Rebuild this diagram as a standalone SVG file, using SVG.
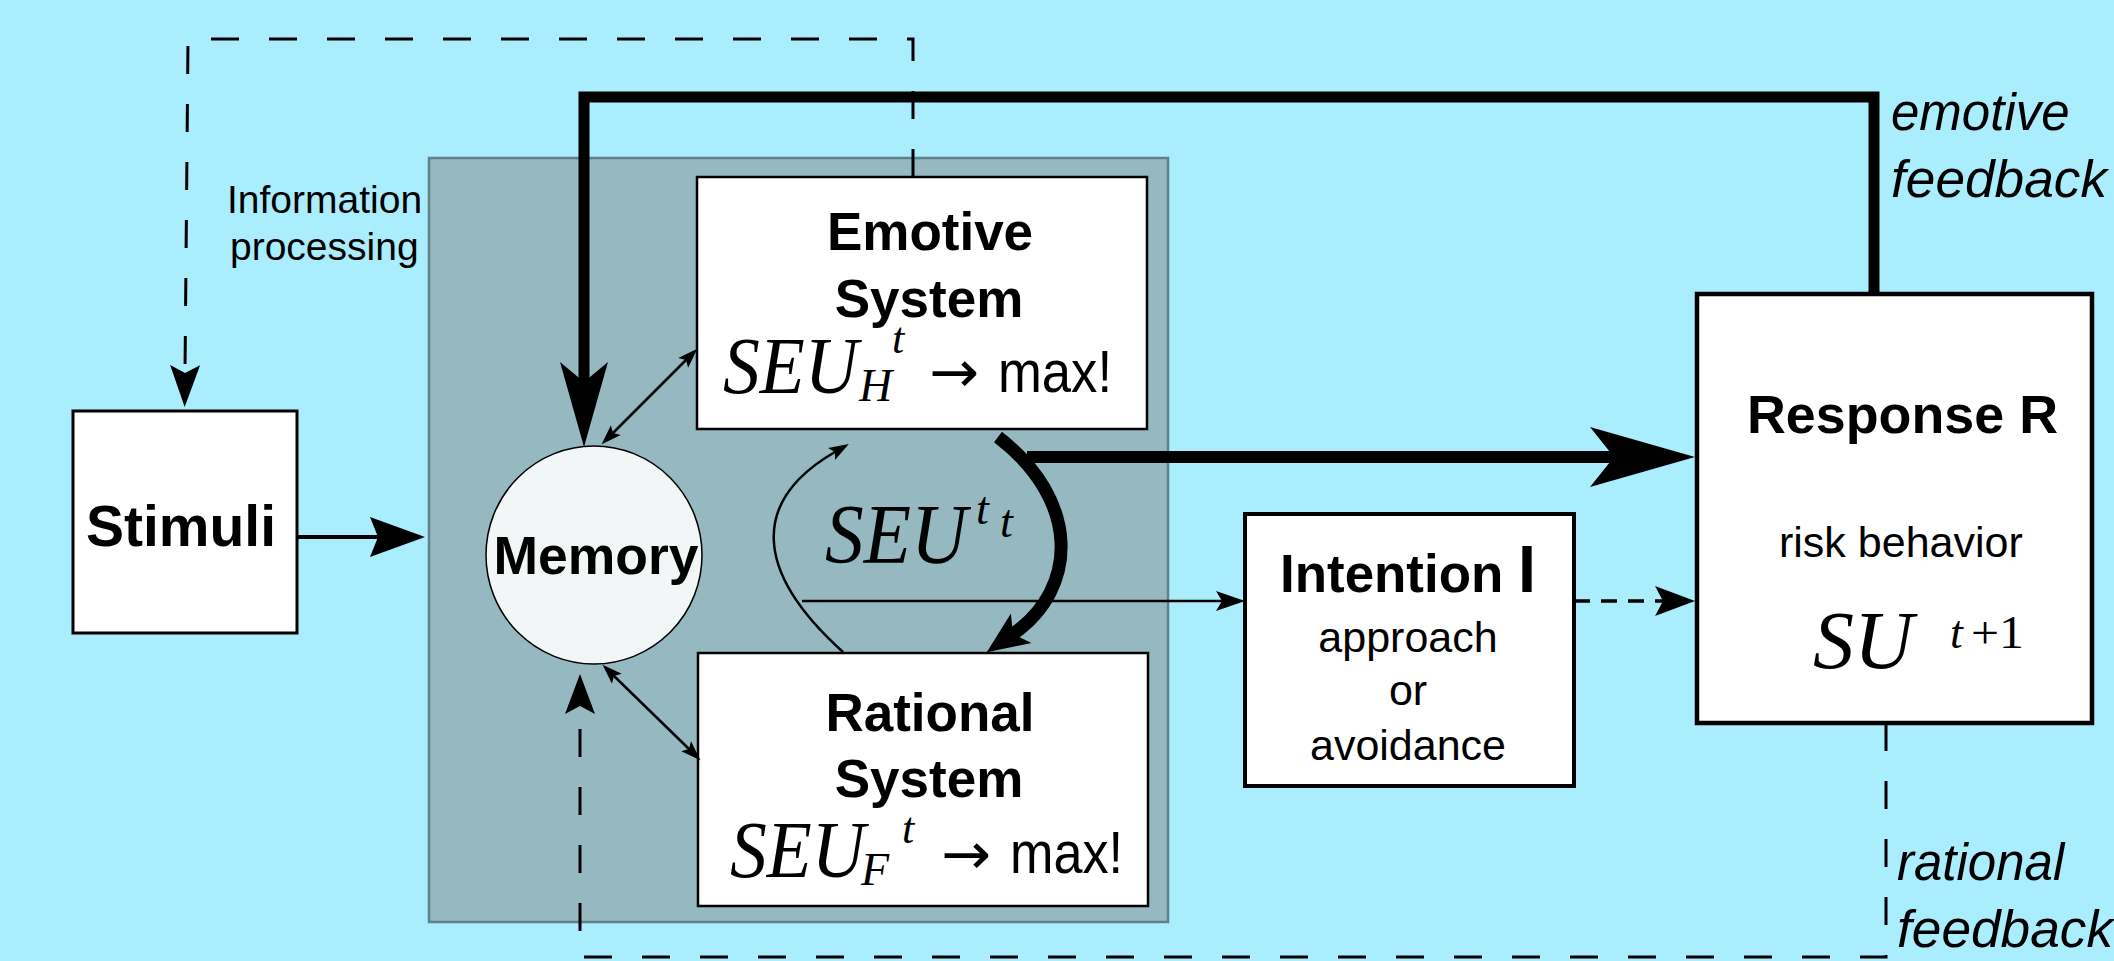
<svg xmlns="http://www.w3.org/2000/svg" width="2114" height="961" viewBox="0 0 2114 961">
<style>
.sans{font-family:"Liberation Sans",Arial,sans-serif;fill:#000}
.b{font-weight:bold}
.it{font-style:italic}
.ser{font-family:"Liberation Serif","Times New Roman",serif;font-style:italic;fill:#000}
.arr{font-family:"DejaVu Sans",sans-serif;fill:#000}
.box{fill:#fff;stroke:#000}
.dash{fill:none;stroke:#000;stroke-width:3;stroke-dasharray:28 30}
</style>
<defs>
<marker id="hBig" markerUnits="userSpaceOnUse" viewBox="0 -31 106 62" refX="24" refY="0" markerWidth="106" markerHeight="62" orient="auto"><path d="M0,-30 L105,0 L0,30 L24,0 Z" fill="#000"/></marker>
<marker id="vBig" markerUnits="userSpaceOnUse" viewBox="0 -25 86 50" refX="20" refY="0" markerWidth="86" markerHeight="50" orient="auto"><path d="M0,-24 L85,0 L0,24 L20,0 Z" fill="#000"/></marker>
<marker id="cHead" markerUnits="userSpaceOnUse" viewBox="0 -19 43 38" refX="10" refY="0" markerWidth="43" markerHeight="38" orient="auto"><path d="M0,-18 L42,0 L0,18 L10,0 Z" fill="#000"/></marker>
<marker id="stim" markerUnits="userSpaceOnUse" viewBox="0 -21 56 42" refX="8" refY="0" markerWidth="56" markerHeight="42" orient="auto"><path d="M0,-20 L55,0 L0,20 L8,0 Z" fill="#000"/></marker>
<marker id="sm" markerUnits="userSpaceOnUse" viewBox="0 -8 21 16" refX="4" refY="0" markerWidth="21" markerHeight="16" orient="auto-start-reverse"><path d="M0,-7 L20,0 L0,7 L4,0 Z" fill="#000"/></marker>
<marker id="thin" markerUnits="userSpaceOnUse" viewBox="0 -11 30 22" refX="6" refY="0" markerWidth="30" markerHeight="22" orient="auto"><path d="M0,-10 L29,0 L0,10 L6,0 Z" fill="#000"/></marker>
<marker id="dHead" markerUnits="userSpaceOnUse" viewBox="0 -16 43 32" refX="8" refY="0" markerWidth="43" markerHeight="32" orient="auto"><path d="M0,-15 L42,0 L0,15 L8,0 Z" fill="#000"/></marker>
<marker id="dHead2" markerUnits="userSpaceOnUse" viewBox="0 -16 41 32" refX="8" refY="0" markerWidth="41" markerHeight="32" orient="auto"><path d="M0,-15 L40,0 L0,15 L8,0 Z" fill="#000"/></marker>
</defs>
<rect x="0" y="0" width="2114" height="961" fill="#aaedfd"/>
<g id="processing">
<rect x="429" y="158" width="739" height="764" fill="#96b8c1" stroke="#5f8189" stroke-width="2.5"/>
<text class="sans" x="227" y="213" font-size="39">Information</text>
<text class="sans" x="230" y="260" font-size="39">processing</text>
</g>
<g id="stimuli">
<rect class="box" x="73" y="411" width="224" height="222" stroke-width="3"/>
<text class="sans b" x="181" y="546" font-size="57" text-anchor="middle">Stimuli</text>
</g>
<g id="memory">
<ellipse cx="594" cy="555" rx="108" ry="109" fill="#f2f6f7" stroke="#000" stroke-width="1.5"/>
<text class="sans b" x="596" y="574" font-size="53" text-anchor="middle" textLength="205" lengthAdjust="spacingAndGlyphs">Memory</text>
</g>
<g id="emotive">
<rect class="box" x="697" y="177" width="450" height="252" stroke-width="2.5"/>
<text class="sans b" x="930" y="250" font-size="53" text-anchor="middle">Emotive</text>
<text class="sans b" x="929" y="317" font-size="53" text-anchor="middle">System</text>
<text class="ser" x="723" y="393" font-size="80" textLength="135" lengthAdjust="spacingAndGlyphs">SEU</text>
<text class="ser" x="859" y="401" font-size="46">H</text>
<text class="ser" x="892" y="353" font-size="44">t</text>
<text class="arr" x="929" y="392" font-size="58" textLength="50" lengthAdjust="spacingAndGlyphs">→</text>
<text class="sans" x="998" y="392" font-size="60" textLength="114" lengthAdjust="spacingAndGlyphs">max!</text>
</g>
<g id="rational">
<rect class="box" x="698" y="653" width="450" height="253" stroke-width="2.5"/>
<text class="sans b" x="930" y="731" font-size="53" text-anchor="middle">Rational</text>
<text class="sans b" x="929" y="797" font-size="53" text-anchor="middle">System</text>
<text class="ser" x="730" y="877" font-size="80" textLength="135" lengthAdjust="spacingAndGlyphs">SEU</text>
<text class="ser" x="861" y="885" font-size="46">F</text>
<text class="ser" x="902" y="843" font-size="44">t</text>
<text class="arr" x="941" y="874" font-size="58" textLength="50" lengthAdjust="spacingAndGlyphs">→</text>
<text class="sans" x="1010" y="873" font-size="60" textLength="113" lengthAdjust="spacingAndGlyphs">max!</text>
</g>
<g id="seu">
<text class="ser" x="825" y="563" font-size="84" textLength="142" lengthAdjust="spacingAndGlyphs">SEU</text>
<text class="ser" x="976" y="524" font-size="46">t</text>
<text class="ser" x="1000" y="537" font-size="46">t</text>
</g>
<g id="intention">
<rect class="box" x="1245" y="514" width="329" height="272" stroke-width="4"/>
<text class="sans b" x="1280" y="592" font-size="54" textLength="256" lengthAdjust="spacingAndGlyphs">Intention <tspan font-size="66">I</tspan></text>
<text class="sans" x="1408" y="652" font-size="43" text-anchor="middle">approach</text>
<text class="sans" x="1408" y="705" font-size="43" text-anchor="middle">or</text>
<text class="sans" x="1408" y="760" font-size="43" text-anchor="middle">avoidance</text>
</g>
<g id="response">
<rect class="box" x="1697" y="294" width="395" height="429" stroke-width="4.5"/>
<text class="sans b" x="1747" y="433" font-size="54" textLength="311" lengthAdjust="spacingAndGlyphs">Response R</text>
<text class="sans" x="1779" y="557" font-size="43">risk behavior</text>
<text class="ser" x="1813" y="668" font-size="82">SU</text>
<text class="ser" x="1950" y="648" font-size="46">t</text>
<text x="1971" y="648" font-size="46" font-family="Liberation Serif,Times New Roman,serif" textLength="53" lengthAdjust="spacingAndGlyphs">+1</text>
</g>
<g id="labels">
<text class="sans it" x="1891" y="130" font-size="51">emotive</text>
<text class="sans it" x="1891" y="197" font-size="51" textLength="216" lengthAdjust="spacingAndGlyphs">feedback</text>
<text class="sans it" x="1897" y="880" font-size="51">rational</text>
<text class="sans it" x="1897" y="947" font-size="51" textLength="216" lengthAdjust="spacingAndGlyphs">feedback</text>
</g>
<g id="connectors" fill="none" stroke="#000">
<path class="dash" d="M913,177 L913,39 L188,39 L185,373" marker-end="url(#dHead)"/>
<path class="dash" d="M1886,723 L1886,957 L580,957 L580,706" marker-end="url(#dHead2)" stroke-dasharray="28 26"/>
<path d="M1874,294 L1874,97 L584,97 L584,382" stroke-width="11" stroke-linejoin="miter" marker-end="url(#vBig)"/>
<path d="M297,537 L378,537" stroke-width="4" marker-end="url(#stim)"/>
<path d="M1027,457 L1614,457" stroke-width="12" marker-end="url(#hBig)"/>
<path d="M998,437 C1080,500 1079,588 1013,634" stroke-width="13" marker-end="url(#cHead)"/>
<path d="M843,652 C752,570 752,500 835,452" stroke-width="2.5" marker-end="url(#sm)"/>
<path d="M613,433 L686,360" stroke-width="2.5" marker-start="url(#sm)" marker-end="url(#sm)"/>
<path d="M614,676 L689,749" stroke-width="2.5" marker-start="url(#sm)" marker-end="url(#sm)"/>
<path d="M802,601 L1222,601" stroke-width="2.5" marker-end="url(#thin)"/>
<path d="M1574,601 L1663,601" stroke-width="3.5" stroke-dasharray="16 11" marker-end="url(#dHead2)"/>
</g>
</svg>
